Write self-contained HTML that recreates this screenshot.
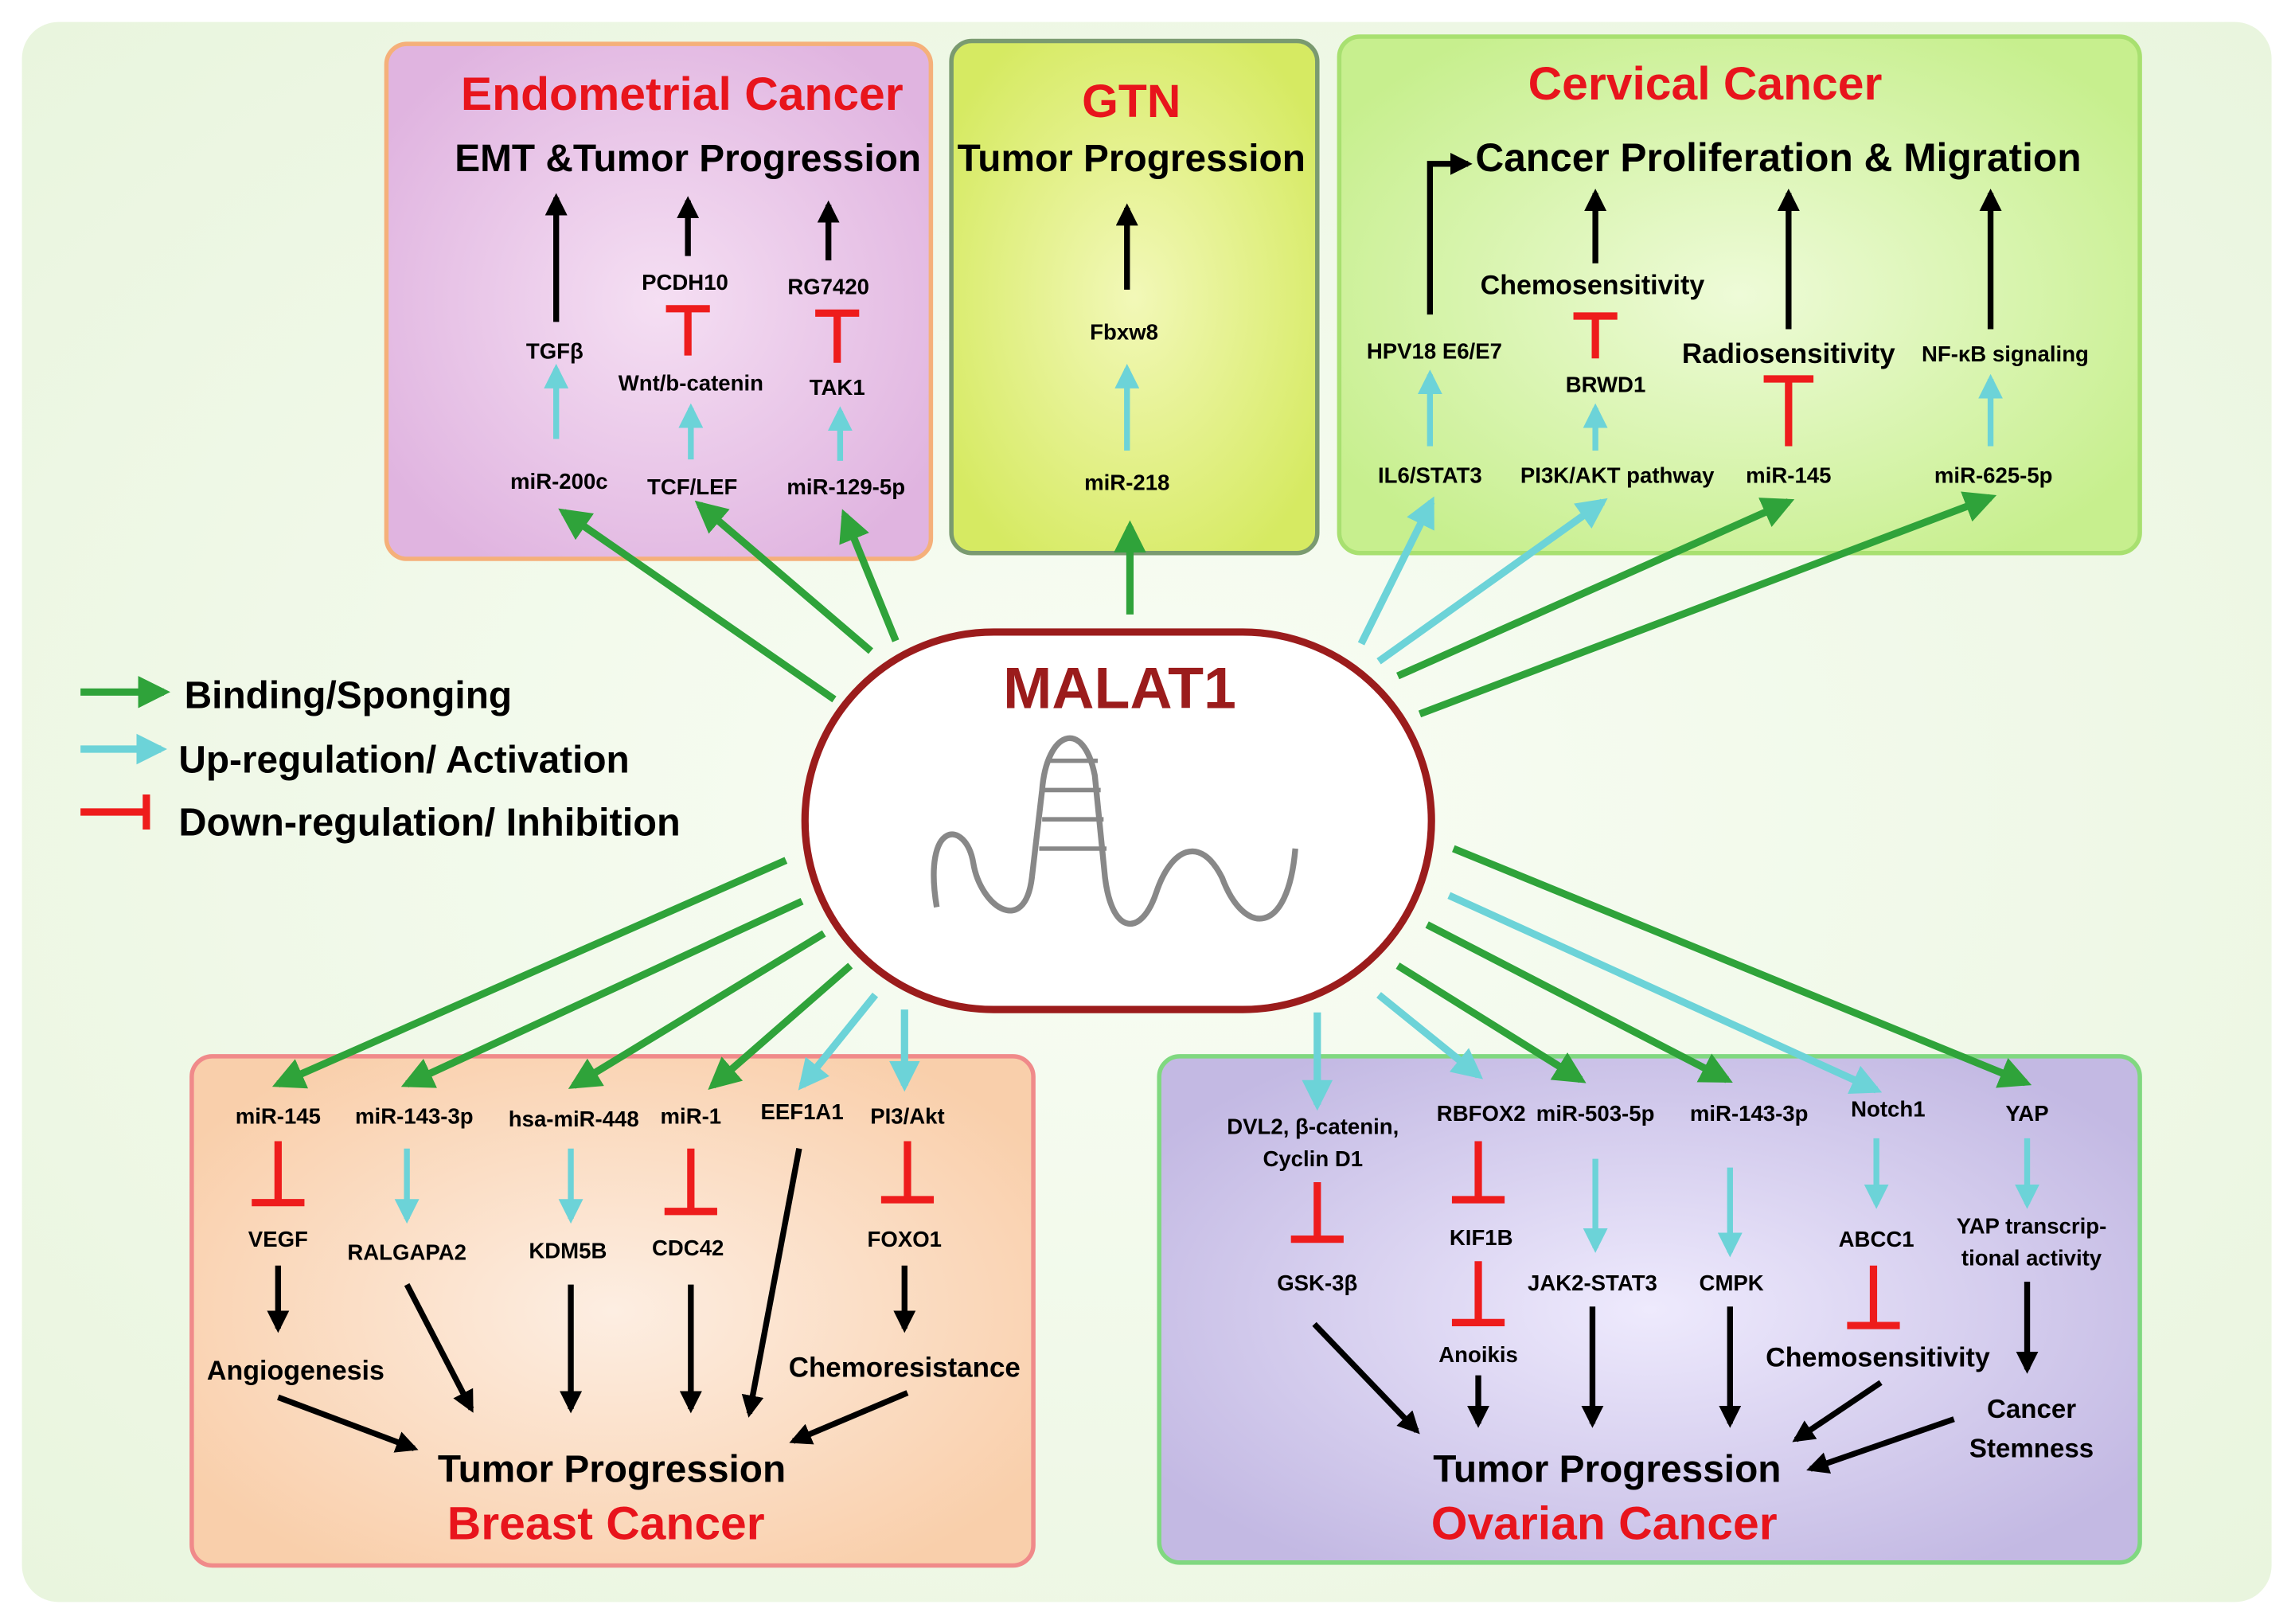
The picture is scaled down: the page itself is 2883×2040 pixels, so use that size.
<!DOCTYPE html>
<html><head><meta charset="utf-8"><style>
html,body{margin:0;padding:0;background:#fff;}
svg{display:block;}
text{font-family:"Liberation Sans",sans-serif;font-weight:bold;text-anchor:middle;}
</style></head><body>
<svg width="2883" height="2040" viewBox="0 0 1568 1110" preserveAspectRatio="none" xmlns="http://www.w3.org/2000/svg">
<defs>
<marker id="g" viewBox="0 0 10 10" refX="8" refY="5" markerWidth="4.4" markerHeight="4.4" orient="auto"><path d="M0,0L10,5L0,10z" fill="#2fa33a"/></marker>
<marker id="c" viewBox="0 0 10 10" refX="8" refY="5" markerWidth="4.2" markerHeight="4.2" orient="auto"><path d="M0,0L10,5L0,10z" fill="#6cd3d8"/></marker>
<marker id="k" viewBox="0 0 10 10" refX="8" refY="5" markerWidth="3.8" markerHeight="3.8" orient="auto"><path d="M0,0L10,5L0,10z" fill="#000"/></marker>
<radialGradient id="bg" cx="50%" cy="50%" r="70%"><stop offset="0" stop-color="#f9fdf5"/><stop offset="1" stop-color="#e9f5de"/></radialGradient>
<radialGradient id="pe" cx="50%" cy="50%" r="60%"><stop offset="0" stop-color="#f5dff3"/><stop offset="1" stop-color="#e0b4e0"/></radialGradient>
<radialGradient id="gt" cx="50%" cy="50%" r="60%"><stop offset="0" stop-color="#f2f8b8"/><stop offset="1" stop-color="#d6ea62"/></radialGradient>
<radialGradient id="cv" cx="50%" cy="50%" r="60%"><stop offset="0" stop-color="#eefbd8"/><stop offset="1" stop-color="#c7ef8e"/></radialGradient>
<radialGradient id="br" cx="50%" cy="50%" r="60%"><stop offset="0" stop-color="#fdeee2"/><stop offset="1" stop-color="#f9cfab"/></radialGradient>
<radialGradient id="ov" cx="50%" cy="50%" r="60%"><stop offset="0" stop-color="#eeeafd"/><stop offset="1" stop-color="#c3b9e3"/></radialGradient>
</defs>
<rect x="15" y="15" width="1537" height="1080" rx="25" fill="url(#bg)"/>
<rect x="264" y="30" width="372" height="352" rx="14" fill="url(#pe)" stroke="#f5b07a" stroke-width="3"/>
<rect x="650" y="28" width="250" height="350" rx="14" fill="url(#gt)" stroke="#7a9a70" stroke-width="3"/>
<rect x="915" y="25" width="547" height="353" rx="14" fill="url(#cv)" stroke="#a8e070" stroke-width="3"/>
<rect x="131" y="722" width="575" height="348" rx="14" fill="url(#br)" stroke="#f08a8a" stroke-width="3"/>
<rect x="792" y="722" width="670" height="346" rx="14" fill="url(#ov)" stroke="#80d880" stroke-width="3"/>

<rect x="550" y="432" width="428" height="258" rx="129" fill="#fff" stroke="#9b1c1c" stroke-width="5"/>
<text x="765" y="484" font-size="40" fill="#9b1c1c">MALAT1</text>
<path d="M640,620 C630,560 660,560 665,590 C670,620 700,640 705,600 L712,540 C715,500 740,490 748,530 L755,600 C760,640 780,640 790,610 C800,580 820,570 835,600 C850,640 880,640 885,580" fill="none" stroke="#888" stroke-width="4"/>
<path d="M715,520L750,520M713,540L752,540M712,560L754,560M710,580L756,580" stroke="#888" stroke-width="3"/>

<g font-size="15">
<!-- Endometrial -->
<text x="466" y="75" font-size="32" fill="#e8141c">Endometrial Cancer</text>
<text x="470" y="117" font-size="26">EMT &amp;Tumor Progression</text>
<g stroke="#000" stroke-width="4" marker-end="url(#k)"><path d="M380,220V135"/><path d="M470,175V137"/><path d="M566,178V140"/></g>
<text x="468" y="198">PCDH10</text><text x="566" y="201">RG7420</text><text x="379" y="245">TGFβ</text>
<text x="472" y="267">Wnt/b-catenin</text><text x="572" y="270">TAK1</text>
<text x="382" y="334">miR-200c</text><text x="473" y="338">TCF/LEF</text><text x="578" y="338">miR-129-5p</text>
<g stroke="#ee1c1c" stroke-width="5" fill="none"><path d="M470,243V211M455,211H485"/><path d="M572,248V214M557,214H587"/></g>
<g stroke="#6cd3d8" stroke-width="4" marker-end="url(#c)"><path d="M380,300V252"/><path d="M472,314V279"/><path d="M574,315V281"/></g>
<!-- GTN -->
<text x="773" y="80" font-size="32" fill="#e8141c">GTN</text>
<text x="773" y="117" font-size="26">Tumor Progression</text>
<path d="M770,198V142" stroke="#000" stroke-width="4" marker-end="url(#k)"/>
<text x="768" y="232">Fbxw8</text>
<path d="M770,308V252" stroke="#6cd3d8" stroke-width="4" marker-end="url(#c)"/>
<text x="770" y="335">miR-218</text>
<!-- Cervical -->
<text x="1165" y="68" font-size="32" fill="#e8141c">Cervical Cancer</text>
<text x="1215" y="117" font-size="27">Cancer Proliferation &amp; Migration</text>
<g stroke="#000" stroke-width="4" fill="none" marker-end="url(#k)"><path d="M977,215V112H1003"/><path d="M1090,180V132"/><path d="M1222,225V132"/><path d="M1360,225V132"/></g>
<text x="1088" y="201" font-size="18.5">Chemosensitivity</text>
<text x="1222" y="248" font-size="19">Radiosensitivity</text>
<text x="1370" y="247">NF-κB signaling</text>
<text x="980" y="245">HPV18 E6/E7</text><text x="1097" y="268">BRWD1</text>
<text x="977" y="330">IL6/STAT3</text><text x="1105" y="330">PI3K/AKT pathway</text><text x="1222" y="330">miR-145</text><text x="1362" y="330">miR-625-5p</text>
<g stroke="#ee1c1c" stroke-width="5" fill="none"><path d="M1090,245V216M1075,216H1105"/><path d="M1222,305V259M1205,259H1239"/></g>
<g stroke="#6cd3d8" stroke-width="4" marker-end="url(#c)"><path d="M977,305V256"/><path d="M1090,308V279"/><path d="M1360,305V259"/></g>
<!-- Legend -->
<path d="M55,473H112" stroke="#2fa33a" stroke-width="5" marker-end="url(#g)"/>
<path d="M55,512H110" stroke="#6cd3d8" stroke-width="5" marker-end="url(#c)"/>
<path d="M55,555H100M100,543V567" stroke="#ee1c1c" stroke-width="5" fill="none"/>
<text x="126" y="484" font-size="26" style="text-anchor:start">Binding/Sponging</text>
<text x="122" y="528" font-size="26" style="text-anchor:start">Up-regulation/ Activation</text>
<text x="122" y="571" font-size="26.5" style="text-anchor:start">Down-regulation/ Inhibition</text>
<!-- connectors -->
<g stroke="#2fa33a" stroke-width="5" marker-end="url(#g)">
<path d="M570,478L385,350"/><path d="M595,445L478,345"/><path d="M612,438L577,352"/><path d="M772,420V360"/>
<path d="M955,462L1222,343"/><path d="M970,488L1360,340"/>
<path d="M537,588L190,741"/><path d="M548,616L278,741"/><path d="M563,638L392,742"/><path d="M581,660L487,742"/>
<path d="M955,660L1080,738"/><path d="M975,632L1180,738"/><path d="M993,580L1384,740"/>
</g>
<g stroke="#6cd3d8" stroke-width="5" marker-end="url(#c)">
<path d="M930,440L978,343"/><path d="M942,452L1095,343"/>
<path d="M598,680L548,742"/><path d="M618,690V742"/>
<path d="M900,692V755"/><path d="M942,680L1010,735"/><path d="M990,612L1282,745"/>
</g>
<!-- Breast -->
<text x="190" y="768">miR-145</text><text x="283" y="768">miR-143-3p</text><text x="392" y="770">hsa-miR-448</text><text x="472" y="768">miR-1</text><text x="548" y="765">EEF1A1</text><text x="620" y="768">PI3/Akt</text>
<g stroke="#ee1c1c" stroke-width="5" fill="none"><path d="M190,780V822M172,822H208"/><path d="M472,785V828M454,828H490"/><path d="M620,780V820M602,820H638"/></g>
<g stroke="#6cd3d8" stroke-width="4" marker-end="url(#c)"><path d="M278,785V833"/><path d="M390,785V833"/></g>
<text x="190" y="852">VEGF</text><text x="278" y="861">RALGAPA2</text><text x="388" y="860">KDM5B</text><text x="470" y="858">CDC42</text><text x="618" y="852">FOXO1</text>
<g stroke="#000" stroke-width="4" marker-end="url(#k)"><path d="M546,785L512,966"/><path d="M190,865V908"/><path d="M278,878L322,963"/><path d="M390,878V963"/><path d="M472,878V963"/><path d="M618,865V908"/><path d="M190,955L283,990"/><path d="M620,952L542,985"/></g>
<text x="202" y="943" font-size="18.5">Angiogenesis</text><text x="618" y="941" font-size="19">Chemoresistance</text>
<text x="418" y="1013" font-size="26">Tumor Progression</text>
<text x="414" y="1052" font-size="32" fill="#e8141c">Breast Cancer</text>
<!-- Ovarian -->
<text x="897" y="775">DVL2, β-catenin,</text><text x="897" y="797">Cyclin D1</text>
<text x="1012" y="766">RBFOX2</text><text x="1090" y="766">miR-503-5p</text><text x="1195" y="766">miR-143-3p</text><text x="1290" y="763">Notch1</text><text x="1385" y="766">YAP</text>
<g stroke="#ee1c1c" stroke-width="5" fill="none"><path d="M900,808V847M882,847H918"/><path d="M1010,780V820M992,820H1028"/><path d="M1010,862V904M992,904H1028"/><path d="M1280,865V906M1262,906H1298"/></g>
<g stroke="#6cd3d8" stroke-width="4" marker-end="url(#c)"><path d="M1090,792V853"/><path d="M1182,798V856"/><path d="M1282,778V823"/><path d="M1385,778V823"/></g>
<text x="1012" y="851">KIF1B</text><text x="900" y="882">GSK-3β</text><text x="1088" y="882">JAK2-STAT3</text><text x="1183" y="882">CMPK</text><text x="1282" y="852">ABCC1</text>
<text x="1388" y="843">YAP transcrip-</text><text x="1388" y="865">tional activity</text>
<text x="1010" y="931">Anoikis</text><text x="1283" y="934" font-size="18.5">Chemosensitivity</text>
<text x="1388" y="969" font-size="18">Cancer</text><text x="1388" y="996" font-size="18">Stemness</text>
<g stroke="#000" stroke-width="4" marker-end="url(#k)"><path d="M1385,876V936"/><path d="M898,905L968,978"/><path d="M1010,940V973"/><path d="M1088,893V973"/><path d="M1182,893V973"/><path d="M1285,945L1227,984"/><path d="M1335,970L1237,1004"/></g>
<text x="1098" y="1013" font-size="26">Tumor Progression</text>
<text x="1096" y="1052" font-size="32" fill="#e8141c">Ovarian Cancer</text>
</g>
</svg>
</body></html>
